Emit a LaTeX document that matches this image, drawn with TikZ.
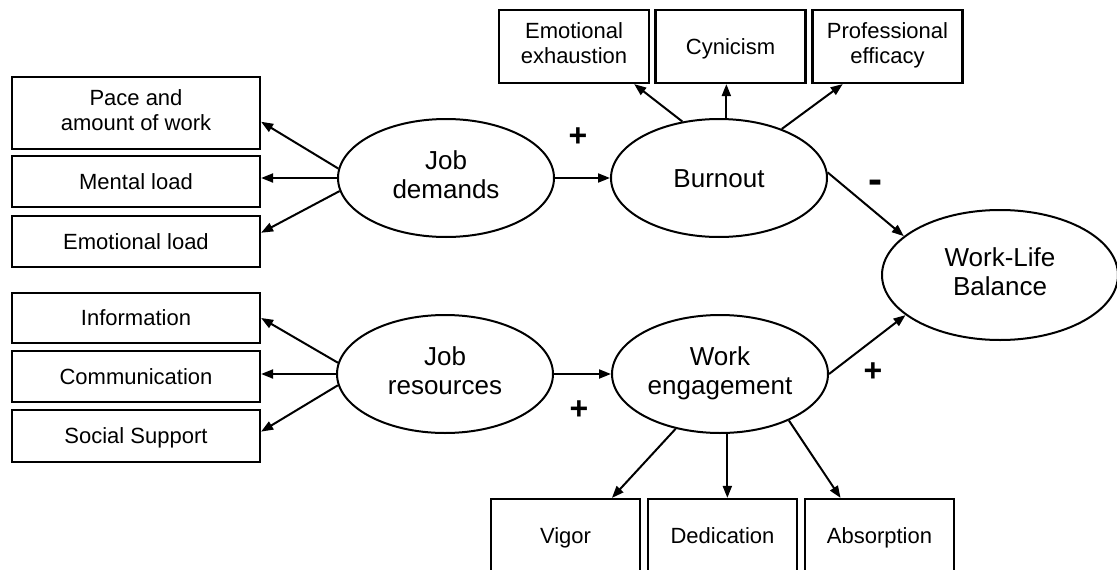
\documentclass[tikz,border=0pt]{standalone}
\usepackage{fontspec}
\setmainfont{Liberation Sans}
\usetikzlibrary{shapes.geometric, arrows.meta}
\newcommand{\boxstrut}{\rule[-0.28em]{0pt}{1.28em}}

\begin{document}
\begin{tikzpicture}[x=1pt, y=-1pt,
  box/.style={draw, line width=2.2pt, inner sep=0pt, align=center, font=\fontsize{22}{25}\selectfont,
    execute at begin node=\boxstrut, execute at end node=\boxstrut},
  latent/.style={draw, ellipse, line width=2pt, inner sep=0pt, minimum width=216pt, minimum height=118pt, align=center,
    font=\fontsize{26}{29}\selectfont, execute at begin node=\boxstrut, execute at end node=\boxstrut},
  arr/.style={-{Triangle[length=12pt, width=9pt]}, line width=2pt},
  sign/.style={font=\bfseries\fontsize{32}{32}\selectfont}]
  \useasboundingbox (0,0) rectangle (1117,570);
  % Job demands and its indicators
  \node[box, minimum width=248pt, minimum height=72pt] (pace) at (136,113) {Pace and\\amount of work};
  \node[box, minimum width=248pt, minimum height=51pt] (mental) at (136,181.5) {Mental load};
  \node[box, minimum width=248pt, minimum height=51pt] (emoload) at (136,241.5) {Emotional load};
  \node[latent] (jd) at (446,178) {Job\\demands};
  % Job resources and its indicators
  \node[box, minimum width=248pt, minimum height=50pt] (info) at (136,318) {Information};
  \node[box, minimum width=248pt, minimum height=51pt] (comm) at (136,376.5) {Communication};
  \node[box, minimum width=248pt, minimum height=52pt] (social) at (136,436) {Social Support};
  \node[latent] (jr) at (445,374) {Job\\resources};
  % Burnout
  \node[latent] (burnout) at (719,178) {Burnout};
  \node[box, minimum width=150pt, minimum height=73pt] (ee) at (574,46.5) {Emotional\\exhaustion};
  \node[box, minimum width=150pt, minimum height=73pt] (cyn) at (730.5,46.5) {Cynicism};
  \node[box, minimum width=150pt, minimum height=73pt] (pe) at (887.5,46.5) {Professional\\efficacy};
  % Work engagement
  \node[latent] (we) at (720,374) {Work\\engagement};
  \node[box, minimum width=149pt, minimum height=73pt] (vigor) at (565.5,535.5) {Vigor};
  \node[box, minimum width=149pt, minimum height=73pt] (ded) at (722.5,535.5) {Dedication};
  \node[box, minimum width=149pt, minimum height=73pt] (absorb) at (879.5,535.5) {Absorption};
  % Outcome
  \node[latent, minimum width=236pt, minimum height=130pt] (wlb) at (1000,275) {Work-Life\\Balance};

  % Arrows
  \draw[arr] (jd.175) -- (pace.-4);
  \draw[arr] (jd.west) -- (jd.west -| mental.east);
  \draw[arr] (jd.187) -- (emoload.4);
  \draw[arr] (jd.east) -- (burnout.west);
  \draw[arr] (jr.174) -- (info.east);
  \draw[arr] (jr.west) -- (jr.west -| comm.east);
  \draw[arr] (jr.186) -- (social.2);
  \draw[arr] (jr.east) -- (we.west);
  \draw[arr] (burnout.123) -- (ee.-32.5);
  \draw[arr] (burnout.83) -- (burnout.83 |- cyn.south);
  \draw[arr] (burnout.38) -- (pe.220);
  \draw[arr] (burnout.3) -- (wlb.158);
  \draw[arr] (we.east) -- (wlb.203);
  \draw[arr] (we.231) -- (vigor.39);
  \draw[arr] (we.-83) -- (we.-83 |- ded.north);
  \draw[arr] (we.-34) -- (absorb.136);
  % Signs
  \node[sign] (plusjd) at (578,137) {+};
  \node[sign, font=\bfseries\fontsize{42}{42}\selectfont] (minusbo) at (875,187) {-};
  \node[sign] (plusjr) at (579,410) {+};
  \node[sign] (pluswe) at (873,372) {+};
\end{tikzpicture}
\end{document}
